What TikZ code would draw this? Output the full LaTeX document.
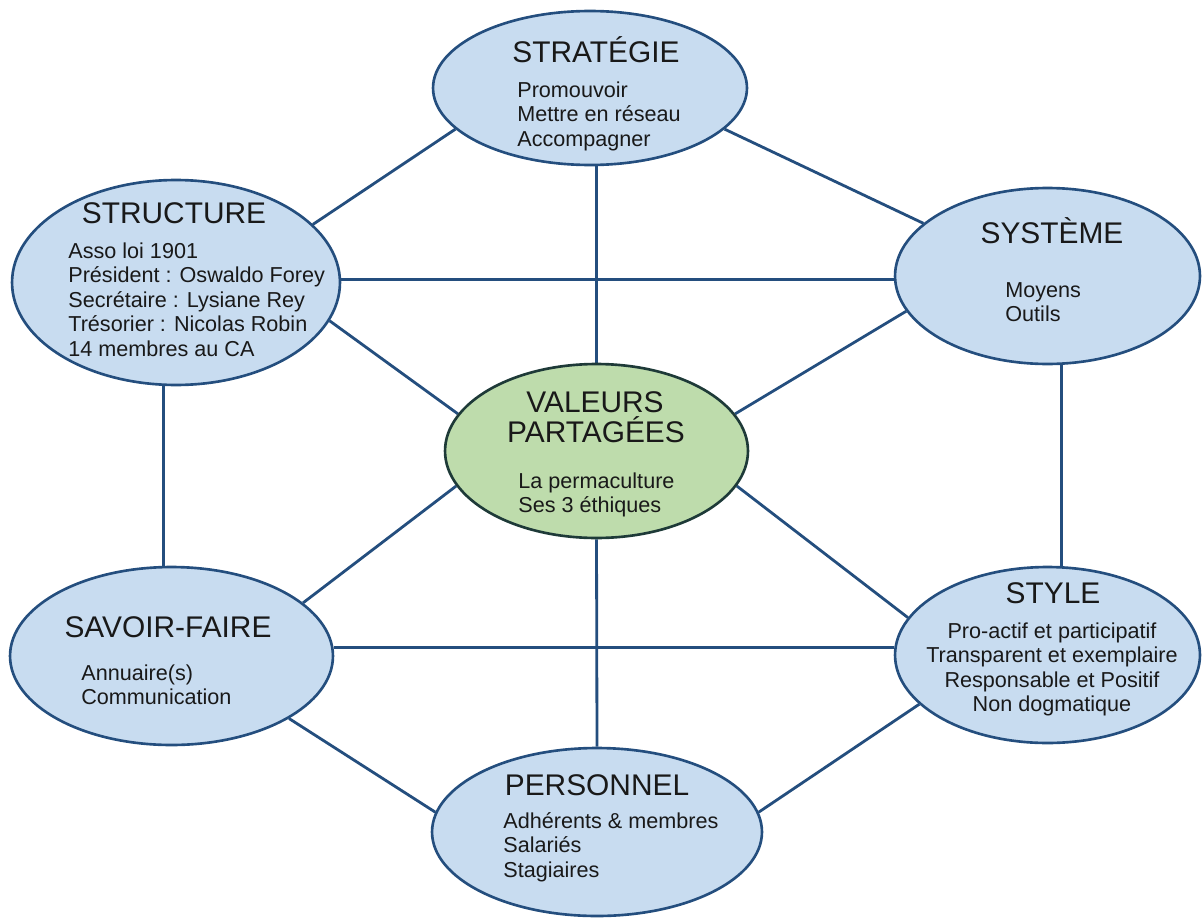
\documentclass[tikz,border=0pt]{standalone}
\usepackage{fontspec}
\setmainfont{Liberation Sans}
\usetikzlibrary{shapes.geometric,backgrounds}
\definecolor{fillblue}{RGB}{200,220,240}
\definecolor{edgeblue}{RGB}{36,78,126}
\definecolor{fillgreen}{RGB}{190,220,172}
\definecolor{edgedark}{RGB}{30,58,56}
\definecolor{txt}{RGB}{25,25,25}
\newcommand\stackl[1]{\begin{tabular}[t]{@{}l@{}}#1\end{tabular}}
\newcommand\stackc[1]{\begin{tabular}[t]{@{}c@{}}#1\end{tabular}}
\begin{document}
\begin{tikzpicture}[x=0.02cm,y=-0.02cm,
  blob/.style={ellipse, draw=edgeblue, fill=fillblue, line width=1.5pt, inner sep=0pt},
  core/.style={blob, draw=edgedark, fill=fillgreen},
  title/.style={anchor=base, inner sep=0pt, text=txt, font=\fontsize{17}{17}\selectfont},
  body/.style={anchor=base west, inner sep=0pt, text=txt, font=\fontsize{12.3}{14}\selectfont},
  bodyc/.style={body, anchor=base},
  link/.style={draw=edgeblue, line width=1.6pt}]
\useasboundingbox (0,0) rectangle (1202,919);

\node[blob, minimum width=6.28cm, minimum height=3.08cm] (strat) at (590,88) {};
\node[blob, minimum width=6.56cm, minimum height=4.1cm] (struct) at (176,282.5) {};
\node[blob, minimum width=6.1cm, minimum height=3.52cm] (syst) at (1047.5,276) {};
\node[core, minimum width=6.06cm, minimum height=3.48cm] (val) at (596.5,451) {};
\node[blob, minimum width=6.46cm, minimum height=3.56cm] (sav) at (171.5,656) {};
\node[blob, minimum width=6.1cm, minimum height=3.52cm] (style) at (1047.5,655) {};
\node[blob, minimum width=6.6cm, minimum height=3.36cm] (pers) at (597,832) {};

\node[title] (strat-t) at (596,63) {STRATÉGIE};
\node[body] (strat-b) at (517,97) {\stackl{Promouvoir\\Mettre en réseau\\Accompagner}};
\node[title] (struct-t) at (174,223) {STRUCTURE};
\node[body] (struct-b) at (68,258) {\stackl{Asso loi 1901\\Président : Oswaldo Forey\\Secrétaire : Lysiane Rey\\Trésorier : Nicolas Robin\\14 membres au CA}};
\node[title] (syst-t) at (1052,243) {SYSTÈME};
\node[body] (syst-b) at (1005,297) {\stackl{Moyens\\Outils}};
\node[title] (val-t1) at (595,412) {VALEURS};
\node[title] (val-t2) at (596,442) {PARTAGÉES};
\node[body] (val-b) at (518,488) {\stackl{La permaculture\\Ses 3 éthiques}};
\node[title] (sav-t) at (168,637) {SAVOIR-FAIRE};
\node[body] (sav-b) at (81,680) {\stackl{Annuaire(s)\\Communication}};
\node[title] (style-t) at (1053,603) {STYLE};
\node[bodyc] (style-b) at (1052,638) {\stackc{Pro-actif et participatif\\Transparent et exemplaire\\Responsable et Positif\\Non dogmatique}};
\node[title] (pers-t) at (597,795) {PERSONNEL};
\node[body] (pers-b) at (503,828) {\stackl{Adhérents \& membres\\Salariés\\Stagiaires}};

\begin{scope}[on background layer]
\draw[link] (strat.197.2) -- (struct.23.5);
\draw[link] (strat.-17.5) -- (syst.157.4);
\draw[link] (val.north) -- (val.north |- strat.south);
\draw[link] (struct.1) -- (struct.1 -| syst.west);
\draw[link] (struct.-14.9) -- (val.165.4);
\draw[link] (syst.194.4) -- (val.15.1);
\draw[link] (struct.-97.8) -- (struct.-97.8 |- sav.north);
\draw[link] (syst.-81.9) -- (syst.-81.9 |- style.north);
\draw[link] (val.194.9) -- (sav.22.1);
\draw[link] (val.-14.8) -- (style.165.2);
\draw[link] (val.south) -- (pers.north);
\draw[link] (sav.3) -- (sav.3 -| style.west);
\draw[link] (sav.-28.2) -- (pers.173);
\draw[link] (style.201.4) -- (pers.7.6);
\end{scope}
\end{tikzpicture}
\end{document}
